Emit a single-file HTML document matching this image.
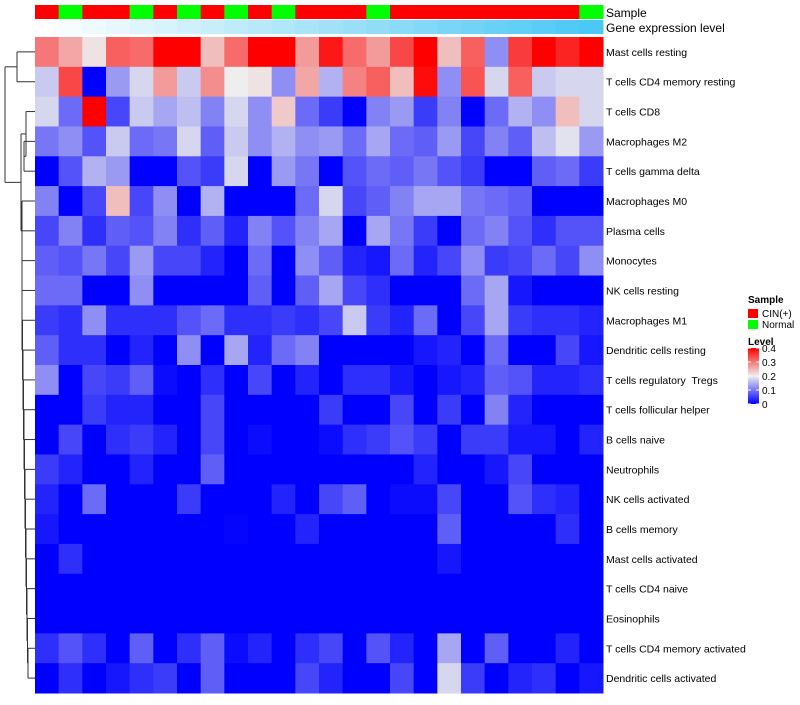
<!DOCTYPE html>
<html><head><meta charset="utf-8"><style>
body{margin:0;background:#fff;font-family:"Liberation Sans",sans-serif}
svg text{font-family:"Liberation Sans",sans-serif;white-space:pre}
</style></head><body>
<svg id="chart" width="800" height="700" xmlns="http://www.w3.org/2000/svg">
<g id="dendro" stroke="#333" fill="none" stroke-width="1"></g>
<g id="annot"></g>
<g id="cells"></g>
<g id="labels"></g>
<text x="606" y="17" font-size="12">Sample</text>
<text x="606" y="32" font-size="12">Gene expression level</text>
<g>
<text x="748" y="303" font-size="10" font-weight="bold">Sample</text>
<rect x="748" y="309" width="10" height="9" fill="#ff0000"/>
<text x="762" y="317" font-size="10">CIN(+)</text>
<rect x="748" y="320" width="10" height="9" fill="#00ff00"/>
<text x="762" y="328" font-size="10">Normal</text>
<text x="748" y="345" font-size="10" font-weight="bold">Level</text>
<defs><linearGradient id="lg" x1="0" y1="0" x2="0" y2="1"><stop offset="0" stop-color="#ff0000"/><stop offset="0.5" stop-color="#eeeeee"/><stop offset="1" stop-color="#0000ff"/></linearGradient></defs>
<rect x="748" y="348" width="11" height="56" fill="url(#lg)"/>
<g id="lticks"></g>
</g>
</svg>
<script>
const rowNames=["Mast cells resting","T cells CD4 memory resting","T cells CD8","Macrophages M2","T cells gamma delta","Macrophages M0","Plasma cells","Monocytes","NK cells resting","Macrophages M1","Dendritic cells resting","T cells regulatory  Tregs","T cells follicular helper","B cells naive","Neutrophils","NK cells activated","B cells memory","Mast cells activated","T cells CD4 naive","Eosinophils","T cells CD4 memory activated","Dendritic cells activated"];
const sampleGroups=["CIN","Normal","CIN","CIN","Normal","CIN","Normal","CIN","Normal","CIN","Normal","CIN","CIN","CIN","Normal","CIN","CIN","CIN","CIN","CIN","CIN","CIN","CIN","Normal"];
const geneLevel=[0,1,2,3,4,5,6,7,8,9,10,11,12,13,14,15,16,17,18,19,20,21,22,23];
const levelTicks=[0.4,0.3,0.2,0.1,0];
const r1=[.3,.26,.21,.32,.31,.4,.4,.24,.31,.4,.4,.27,.38,.31,.27,.34,.4,.24,.32,.12,.35,.4,.37,.4];
const r2=[.17,.34,0,.13,.18,.27,.17,.28,.2,.21,.12,.26,.15,.29,.32,.24,.39,.12,.33,.18,.32,.17,.18,.18];
const r3=[.18,.09,.4,.06,.17,.14,.16,.11,.18,.12,.23,.09,.05,0,.11,.13,.05,.11,0,.09,.15,.12,.24,.18];
const r4=[.1,.12,.07,.17,.09,.1,.18,.08,.17,.12,.15,.12,.13,.09,.14,.09,.08,.13,.06,.11,.08,.16,.19,.13];
const r5=[0,.07,.15,.13,0,0,.07,.05,.18,0,.13,.1,0,.07,.09,.08,.1,.07,.05,0,0,.08,.09,.05];
const r6=[.11,0,.06,.24,.06,.12,0,.15,0,0,0,.09,.18,.06,.08,.11,.14,.14,.1,.09,.08,0,0,0];
const r7=[.06,.11,.04,.08,.07,.11,.04,.08,.03,.11,.07,.11,.14,0,.14,.1,.05,0,.09,.11,.07,.04,.07,.07];
const r8=[.08,.07,.1,.06,.13,.06,.06,.03,0,.09,0,.12,.08,.03,.02,.09,.03,.06,.12,.05,.06,.09,.06,.12];
const r9=[.09,.09,0,0,.12,0,0,0,0,.08,0,.08,.14,.06,.04,0,0,0,.09,.14,.02,0,0,0];
const r10=[.05,.04,.12,.04,.04,.04,.07,.09,.04,.04,.05,.04,.06,.17,.05,.03,.09,0,.06,.14,.05,.04,.04,.03];
const r11=[.08,.04,.04,0,.03,0,.12,0,.14,.03,.09,.11,0,0,0,0,.02,.03,0,.09,0,0,.06,.02];
const r12=[.12,0,.06,.05,.08,.01,0,.04,0,.06,0,.03,0,.04,.04,.02,0,.02,.03,.08,.07,.03,.03,.04];
const r13=[0,0,.05,.03,.03,0,0,.06,0,0,0,0,.05,0,0,.06,0,.05,0,.11,.03,0,0,0];
const r14=[0,.06,0,.04,.05,.03,0,.06,0,.01,0,0,.01,.04,.05,.07,.05,0,.05,.05,.02,.02,0,.03];
const r15=[.05,.03,0,0,.03,0,0,.08,0,0,0,0,0,0,0,0,.03,0,0,.02,.06,0,0,0];
const r16=[.03,0,.09,0,0,0,.05,0,0,0,.03,0,.06,.08,0,.01,.01,.06,0,0,.07,.04,.03,0];
const r17=[.02,0,0,0,0,0,0,0,.005,0,0,.03,0,0,0,0,0,.08,0,0,0,0,.04,0];
const r18=[0,.04,0,0,0,0,0,0,0,0,0,0,0,0,0,0,0,.02,0,0,0,0,0,0];
const r19=[0,0,0,0,0,0,0,0,0,0,0,0,0,0,0,0,0,0,0,0,0,0,0,0];
const r20=[0,0,0,0,0,0,0,0,0,0,0,0,0,0,0,0,0,0,0,0,0,0,0,0];
const r21=[.04,.07,.04,0,.08,0,.04,.08,.01,.03,0,.04,.06,0,.07,.03,0,.14,0,.08,0,0,.03,0];
const r22=[0,.04,0,.02,.04,.05,0,.08,0,0,0,.06,.03,0,0,.06,0,.18,.05,0,.03,.04,0,.02];
const values=[r1,r2,r3,r4,r5,r6,r7,r8,r9,r10,r11,r12,r13,r14,r15,r16,r17,r18,r19,r20,r21,r22];

const NS="http://www.w3.org/2000/svg";
const X0=35,X1=603,Y0=37,Y1=693;
const nC=sampleGroups.length,nR=rowNames.length;
const cw=(X1-X0)/nC,rh=(Y1-Y0)/nR;
const xPos=i=>X0+i*cw, yPos=j=>Y0+j*rh;
function col(v){
  const t=Math.max(0,Math.min(1,v/0.4));
  let r,g,b;
  if(t<0.5){const s=t/0.5;r=238*s;g=238*s;b=255-17*s;}
  else{const s=(t-0.5)/0.5;r=238+17*s;g=238*(1-s);b=238*(1-s);}
  return `rgb(${r|0},${g|0},${b|0})`;
}
function mk(tag,attrs,parent){const e=document.createElementNS(NS,tag);for(const k in attrs)e.setAttribute(k,attrs[k]);parent.appendChild(e);return e;}
const cellsG=document.getElementById('cells');
values.forEach((row,j)=>row.forEach((v,i)=>{
  const r=mk('rect',{x:xPos(i),y:yPos(j),width:cw+0.5,height:rh+0.5,fill:col(v)},cellsG);
  
  
}));
const labelsG=document.getElementById('labels');
rowNames.forEach((n,j)=>{
  const t=mk('text',{x:606,y:yPos(j)+rh/2+4,'font-size':'10.5'},labelsG);
  t.textContent=n;
  
  
});
const annotG=document.getElementById('annot');
sampleGroups.forEach((s,i)=>{
  const r=mk('rect',{x:xPos(i),y:5,width:cw+0.5,height:14,fill:s==="CIN"?"#ff0000":"#00ff00"},annotG);
  
  
  const t=geneLevel[i]/(geneLevel.length-1);
  const g=mk('rect',{x:xPos(i),y:20,width:cw+0.5,height:14,fill:`rgb(${(255-180*t)|0},${(255-55*t)|0},${(255-10*t)|0})`},annotG);
  
  
});
const ltG=document.getElementById('lticks');
levelTicks.forEach(v=>{
  const y=404-(v/0.4)*56;
  const t=mk('text',{x:762,y:y+4,'font-size':'10'},ltG);
  t.textContent=v===0?"0":String(v);
  
  
  mk('line',{x1:748,x2:751,y1:y,y2:y,stroke:'#fff'},ltG);
  mk('line',{x1:756,x2:759,y1:y,y2:y,stroke:'#fff'},ltG);
});
const dG=document.getElementById('dendro');
const cy=j=>yPos(j)+rh/2;
function seg(x1,y1,x2,y2){mk('line',{x1:x1,y1:y1,x2:x2,y2:y2},dG);}
function joinN(xa,ya,xb,yb,xj){seg(xa,ya,xj,ya);seg(xb,yb,xj,yb);seg(xj,ya,xj,yb);return (ya+yb)/2;}
const topC=joinN(35,cy(0),35,cy(1),17);
const m45=joinN(35,cy(3),35,cy(4),24);
const m345=joinN(35,cy(2),24,m45,26);
let prevY=joinN(35,cy(20),35,cy(21),28);
let prevX=28;
for(let j=19;j>=5;j--){const nx=Math.max(22,prevX-0.5);const y=joinN(35,cy(j),prevX,prevY,nx);prevY=y;prevX=nx;}
const botC=joinN(26,m345,prevX,prevY,21);
joinN(17,topC,21,botC,5);
</script>
</body></html>
